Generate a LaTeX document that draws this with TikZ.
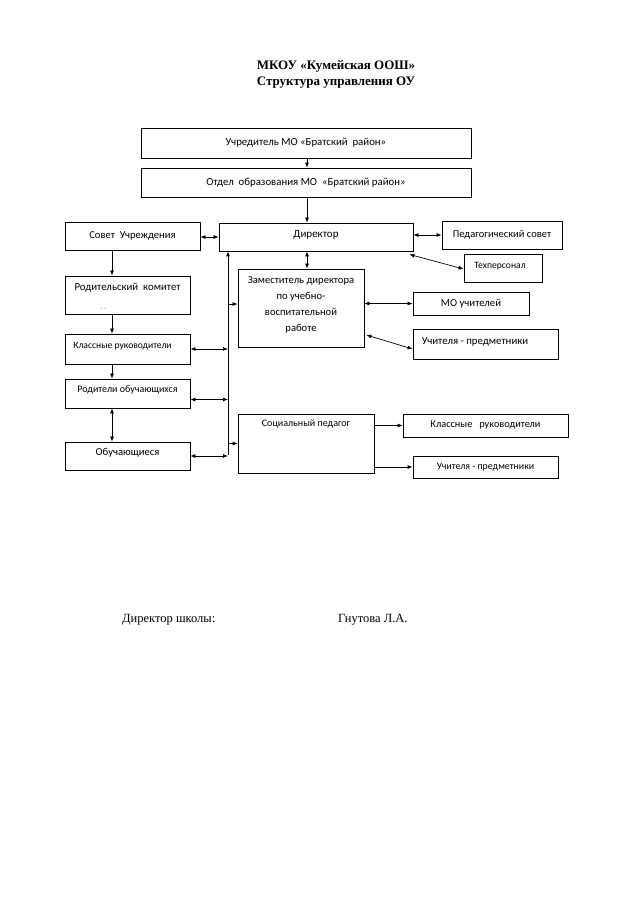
\documentclass[tikz,border=0pt]{standalone}
\usepackage{fontspec}
\setmainfont{Liberation Serif}
\newfontfamily\boxfont{Carlito}
\usetikzlibrary{arrows.meta,calc}
\begin{document}
\begin{tikzpicture}[x=1pt,y=-1pt,
  fs/.style={font=\boxfont\fontsize{#1}{16}\selectfont},
  box/.style={draw,line width=0.8pt,inner sep=0pt,fs=10.5},
  txt/.style={inner sep=0pt,align=center},
  arr/.style={-{Latex[length=5pt,width=4pt]},line width=0.7pt},
  darr/.style={{Latex[length=5pt,width=4pt]}-{Latex[length=5pt,width=4pt]},line width=0.7pt}]
\useasboundingbox (0,0) rectangle (640,905);
% title
\node[font=\bfseries\fontsize{13}{16}\selectfont,align=center,inner sep=0pt] (title) at (336,74) {МКОУ «Кумейская ООШ»\\Структура управления ОУ};
% boxes
\node[box,minimum width=330pt,minimum height=30pt,fs=10.8] (uch) at (306,143) {Учредитель МО «Братский~ район»};
\node[box,minimum width=330pt,minimum height=29pt,fs=10.8] (otd) at (306,182.5) {Отдел~ образования МО~ «Братский район»};
\node[box,minimum width=135pt,minimum height=28pt,fs=10.6] (sovet) at (132.5,236) {Совет~ Учреждения};
\node[box,minimum width=194pt,minimum height=28pt,label={[txt,fs=11,yshift=2pt]center:Директор}] (dir) at (316,237) {};
\node[box,minimum width=120pt,minimum height=28pt,fs=10.5] (ped) at (502,235) {Педагогический совет};
\node[box,minimum width=78pt,minimum height=28pt,label={[txt,fs=9.6,xshift=-3pt,yshift=2pt]center:Техперсонал}] (tech) at (503,268) {};
\node[box,minimum width=125pt,minimum height=38pt,label={[txt,fs=10.8,yshift=7pt]center:Родительский~ комитет},label={[txt,fs=6,xshift=-24pt,yshift=-14pt]center:. .}] (rod) at (127.5,295) {};
\node[box,minimum width=126pt,minimum height=78pt,label={[txt,fs=10.6,anchor=north,yshift=-8pt]north:Заместитель директора\\по учебно-\\воспитательной\\работе}] (zam) at (301,308) {};
\node[box,minimum width=125pt,minimum height=30pt,label={[txt,fs=9.6,xshift=-5pt,yshift=3pt]center:Классные руководители}] (klass) at (127.5,349) {};
\node[box,minimum width=125pt,minimum height=29pt,label={[txt,fs=10,yshift=3.5pt]center:Родители обучающихся}] (rodob) at (127.5,393.5) {};
\node[box,minimum width=125pt,minimum height=28pt,label={[txt,fs=10.6,yshift=3pt]center:Обучающиеся}] (ob) at (127.5,456) {};
\node[box,minimum width=136pt,minimum height=59pt,label={[txt,fs=10,yshift=19.5pt]center:Социальный педагог}] (soc) at (306,443.5) {};
\node[box,minimum width=116pt,minimum height=23pt,fs=10.7] (mo) at (471,303.5) {МО учителей};
\node[box,minimum width=145pt,minimum height=30pt,label={[txt,fs=10.8,xshift=-10.5pt,yshift=2pt]center:Учителя - предметники}] (uchp) at (485.5,344) {};
\node[box,minimum width=165pt,minimum height=23pt,fs=10.3] (kl2) at (485.5,425.5) {Классные~~ руководители};
\node[box,minimum width=145pt,minimum height=22pt,fs=9.9] (uchp2) at (485.5,467) {Учителя - предметники};
% helper coordinates
\coordinate (xL) at (112,0);
\coordinate (xM) at (307,0);
\coordinate (vb) at (228,455);
% connectors
\draw[arr] (uch.south -| xM) -- (otd.north -| xM);
\draw[arr] (otd.south -| xM) -- (dir.north -| xM);
\draw[darr] (sovet.east |- dir.west) -- (dir.west);
\draw[darr] (dir.east |- ped.west) -- (ped.west);
\draw[darr] ($(dir.south east)+(-4,3)$) -- ($(tech.west)+(0,1)$);
\draw[darr] (dir.south -| xM) -- (zam.north -| xM);
\draw[arr] (sovet.south -| xL) -- (rod.north -| xL);
\draw[arr] (rod.south -| xL) -- (klass.north -| xL);
\draw[arr] (klass.south -| xL) -- (rodob.north -| xL);
\draw[darr] (rodob.south -| xL) -- (ob.north -| xL);
\draw[arr] (vb) -- (vb |- dir.south);
\draw[darr] (klass.east) -- (klass.east -| vb);
\draw[darr] ($(rodob.east)+(0,6)$) -- ($(rodob.east -| vb)+(0,6)$);
\draw[darr] (ob.east) -- (ob.east -| vb);
\draw[arr] ($(zam.west -| vb)+(0,-4)$) -- ($(zam.west)+(0,-4)$);
\draw[arr] (soc.west -| vb) -- (soc.west);
\draw[darr] (zam.east |- mo.west) -- (mo.west);
\draw[darr] ($(zam.east)+(2,27)$) -- ($(uchp.west)+(0,5)$);
\draw[arr] (soc.east |- kl2.west) -- (kl2.west);
\draw[arr] (soc.east |- uchp2.west) -- (uchp2.west);
% signature
\node[anchor=west,font=\fontsize{12.5}{16}\selectfont,inner sep=0pt] (sig) at (122,620) {Директор школы:};
\node[anchor=west,font=\fontsize{12.5}{16}\selectfont,inner sep=0pt] (name) at (338,620) {Гнутова Л.А.};
\end{tikzpicture}
\end{document}
